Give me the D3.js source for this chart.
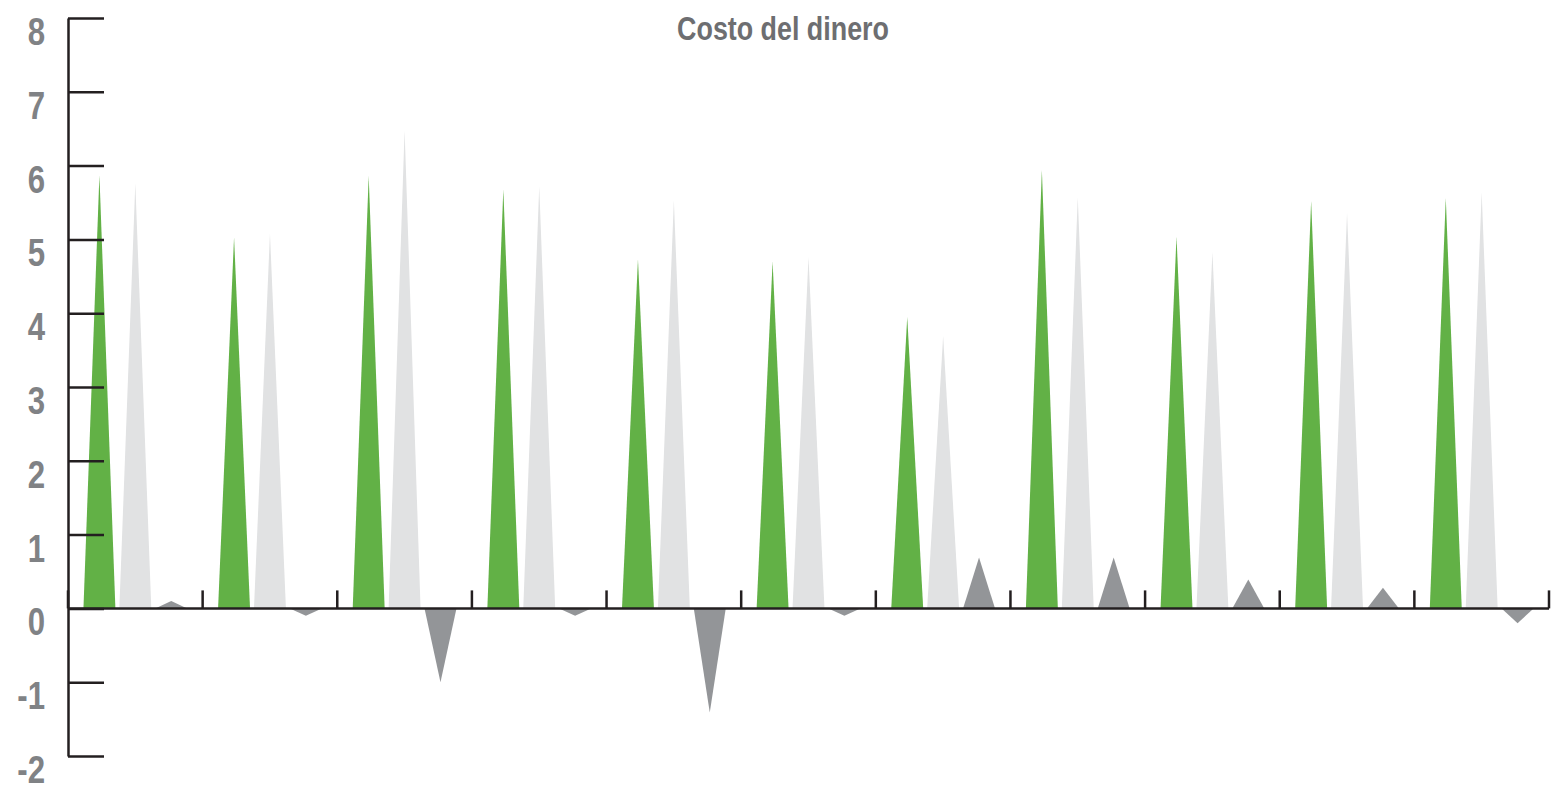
<!DOCTYPE html>
<html>
<head>
<meta charset="utf-8">
<script src="https://cdn.jsdelivr.net/npm/d3@7"></script>
<style>
  body { margin: 0; background: #fff; }
</style>
</head>
<body>
<div id="chart"></div>
<script>
// data
var categories = ["1", "2", "3", "4", "5", "6", "7", "8", "9", "10", "11"];
var serieA = [5.87, 5.03, 5.86, 5.68, 4.73, 4.70, 3.95, 5.94, 5.04, 5.52, 5.56]; // verde
var serieB = [5.76, 5.08, 6.48, 5.72, 5.53, 4.76, 3.69, 5.57, 4.83, 5.36, 5.64]; // gris claro
var serieC = [0.10, -0.10, -1.00, -0.10, -1.41, -0.10, 0.69, 0.69, 0.39, 0.28, -0.20]; // gris oscuro
var yTicks = [-2, -1, 0, 1, 2, 3, 4, 5, 6, 7, 8];
var title = "Costo del dinero";

function draw() {
    var w = 1557;
    var h = 785;
    var left = 68, right = 1549, top = 18, bottom = 756;

    var svg = d3.select("#chart")
        .append("svg")
        .attr("width", w)
        .attr("height", h);

    var keys = ["a", "b", "c"];
    var data = categories.map(function(c, i) {
        return { cat: c, a: serieA[i], b: serieB[i], c: serieC[i] };
    });

    var x = d3.scaleBand()
        .domain(categories)
        .range([left, right])
        .padding(0);

    var xSub = d3.scaleBand()
        .domain(keys)
        .range([0, x.bandwidth()])
        .paddingInner(0.11)
        .paddingOuter(0.43);

    var y = d3.scaleLinear()
        .domain([-2, 8])
        .range([bottom, top]);

    var color = d3.scaleOrdinal()
        .domain(keys)
        .range(["#62b146", "#e1e2e3", "#939598"]);

    // triangles
    svg.append("g")
        .selectAll("g")
        .data(data)
        .enter()
        .append("g")
        .attr("transform", function(d) {
            return "translate(" + x(d.cat) + ",0)";
        })
        .selectAll("path")
        .data(function(d) {
            return keys.map(function(k) { return { key: k, value: d[k] }; });
        })
        .enter()
        .append("path")
        .attr("d", function(d) {
            var x0 = xSub(d.key), bw = xSub.bandwidth();
            return "M" + x0 + "," + y(0) +
                "L" + (x0 + bw / 2) + "," + y(d.value) +
                "L" + (x0 + bw) + "," + y(0) + "Z";
        })
        .attr("fill", function(d) { return color(d.key); });

    // y axis: line + ticks to the right
    var yAxis = svg.append("g")
        .attr("transform", "translate(" + left + ",0)")
        .call(d3.axisRight(y).tickValues(yTicks).tickSize(36).tickSizeOuter(0).tickFormat(""));
    yAxis.selectAll("path, line")
        .attr("stroke", "#231f20")
        .attr("stroke-width", 2.5);

    // y labels (condensed bold, sitting below each tick)
    svg.append("g")
        .selectAll("text")
        .data(yTicks)
        .enter()
        .append("text")
        .attr("transform", function(d) {
            return "translate(45," + (y(d) + 27) + ") scale(0.8,1)";
        })
        .attr("text-anchor", "end")
        .attr("font-family", "'Liberation Sans', Arial, sans-serif")
        .attr("font-weight", "bold")
        .attr("font-size", 39)
        .attr("fill", "#808285")
        .text(function(d) { return d; });

    // x axis line
    svg.append("line")
        .attr("x1", left)
        .attr("x2", right)
        .attr("y1", y(0))
        .attr("y2", y(0))
        .attr("stroke", "#231f20")
        .attr("stroke-width", 2.5);

    // upward ticks at group boundaries
    var bounds = [categories[0]].concat(categories);
    svg.append("g")
        .selectAll("line")
        .data(bounds)
        .enter()
        .append("line")
        .attr("x1", function(d, i) { return i === 0 ? x(d) : x(d) + x.bandwidth(); })
        .attr("x2", function(d, i) { return i === 0 ? x(d) : x(d) + x.bandwidth(); })
        .attr("y1", y(0))
        .attr("y2", y(0) - 18)
        .attr("stroke", "#231f20")
        .attr("stroke-width", 2.5);

    // title
    svg.append("text")
        .attr("transform", "translate(783,40) scale(0.79,1)")
        .attr("text-anchor", "middle")
        .attr("font-family", "'Liberation Sans', Arial, sans-serif")
        .attr("font-weight", "bold")
        .attr("font-size", 34)
        .attr("fill", "#6d6e71")
        .text(title);
}

window.onload = draw;
</script>
</body>
</html>
